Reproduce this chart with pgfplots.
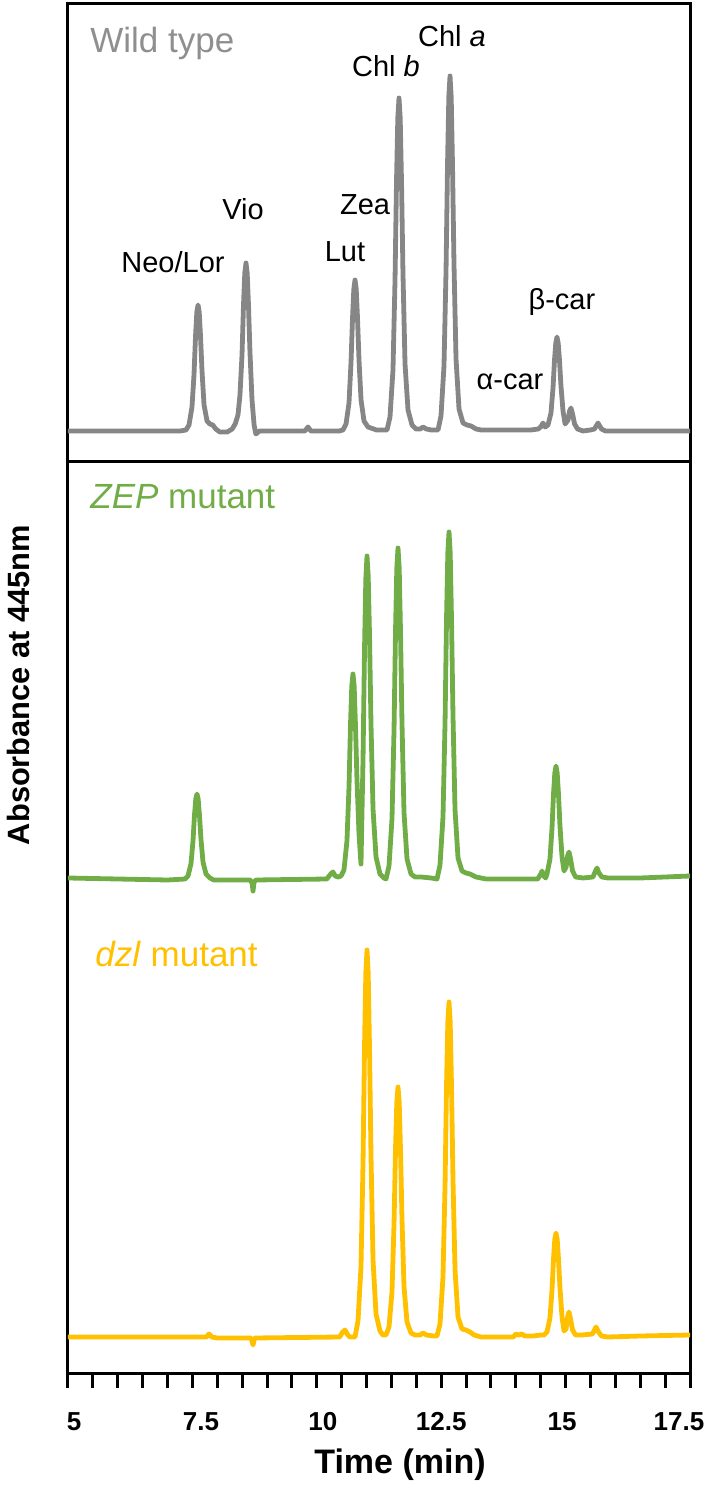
\documentclass[border=0pt]{standalone}
\usepackage{fontspec}
\setmainfont{Liberation Sans}
\usepackage{pgfplots}
\usepackage{pgfplotstable}
\pgfplotsset{compat=1.18}

\definecolor{wtgray}{HTML}{868686}
\definecolor{wtlabel}{HTML}{8F8F8F}
\definecolor{zepgreen}{HTML}{70AD47}
\definecolor{dzlgold}{HTML}{FFC000}

% retention time (min) vs absorbance (arbitrary units, baseline = 0)
\pgfplotstableread{
t h
5.000 -1
6.500 -1
7.250 -1
7.372 0
7.432 5
7.492 23
7.533 56
7.563 94
7.589 118
7.613 125
7.637 118
7.663 94
7.693 59
7.734 25
7.794 9
7.850 6
7.910 5
7.970 1
8.050 -2
8.200 -2
8.300 1
8.360 6
8.416 15
8.456 35
8.497 75
8.527 125
8.553 157
8.577 167
8.601 157
8.627 125
8.657 78
8.698 30
8.740 5
8.775 -4
8.850 -1
9.760 -1
9.823 3
9.880 -1
10.450 -1
10.527 0
10.587 6
10.647 27
10.688 68
10.718 112
10.744 141
10.768 150
10.792 141
10.818 112
10.848 70
10.889 30
10.949 9
11.029 3
11.200 0
11.411 0
11.471 13
11.531 60
11.572 150
11.602 249
11.628 312
11.652 332
11.676 312
11.702 249
11.732 156
11.773 66
11.833 20
11.913 5
11.993 1
12.080 1
12.134 3
12.200 1
12.300 0
12.436 0
12.496 14
12.556 64
12.597 159
12.627 265
12.653 333
12.677 354
12.701 333
12.727 265
12.757 166
12.798 71
12.858 21
12.938 7
13.018 5
13.100 4
13.200 1
13.300 0
14.300 0
14.450 1
14.500 3
14.546 7
14.590 3
14.646 5
14.706 17
14.747 42
14.777 70
14.803 87
14.827 93
14.851 87
14.877 70
14.907 44
14.948 19
14.990 6
15.050 10
15.080 19
15.108 22
15.140 16
15.180 6
15.240 1
15.350 -1
15.500 0
15.580 1
15.651 7
15.720 1
15.800 -1
16.500 -1
17.500 -1
}\wildtype

\pgfplotstableread{
t h
5.000 1
6.000 0
7.000 -1
7.351 0
7.411 3
7.471 15
7.512 38
7.542 64
7.568 80
7.592 85
7.616 80
7.642 64
7.672 40
7.713 17
7.773 5
7.853 1
7.930 -1
8.660 -1
8.700 -4
8.718 -12
8.740 -3
8.780 -1
10.200 0
10.280 5
10.325 7
10.370 3
10.430 2
10.486 3
10.546 9
10.606 38
10.647 92
10.677 154
10.703 193
10.727 205
10.751 193
10.777 154
10.807 100
10.848 45
10.888 15
10.929 120
10.959 230
10.985 300
11.009 323
11.033 303
11.059 245
11.089 155
11.130 70
11.190 22
11.270 5
11.350 1
11.391 0
11.451 13
11.511 60
11.552 149
11.582 248
11.608 311
11.632 331
11.656 311
11.682 248
11.712 156
11.753 66
11.813 20
11.893 5
11.973 2
12.100 2
12.300 1
12.416 0
12.476 14
12.536 62
12.577 156
12.607 260
12.633 326
12.657 347
12.681 326
12.707 260
12.737 163
12.778 69
12.838 21
12.918 8
12.998 6
13.080 5
13.200 2
13.400 0
14.440 0
14.500 5
14.526 8
14.560 3
14.600 1
14.626 5
14.686 20
14.727 51
14.757 85
14.783 106
14.807 113
14.831 106
14.857 85
14.887 53
14.928 22
14.968 8
15.010 12
15.040 23
15.068 27
15.100 20
15.140 8
15.200 2
15.350 1
15.550 2
15.600 8
15.631 11
15.670 6
15.730 2
15.850 1
16.500 1
17.500 3
}\zep

\pgfplotstableread{
t h
5.000 0
7.780 0
7.834 3
7.890 0
8.000 -1
8.680 -1
8.718 -8
8.750 -1
10.460 0
10.520 5
10.567 7
10.610 3
10.660 0
10.768 0
10.828 16
10.888 70
10.929 174
10.959 290
10.985 364
11.009 387
11.033 364
11.059 290
11.089 182
11.130 77
11.190 23
11.270 6
11.330 2
11.391 2
11.451 10
11.511 45
11.552 113
11.582 188
11.608 235
11.632 250
11.656 235
11.682 188
11.712 118
11.753 50
11.813 15
11.893 4
11.973 2
12.080 2
12.134 4
12.200 2
12.350 1
12.416 1
12.476 13
12.536 60
12.577 151
12.607 251
12.633 315
12.657 335
12.681 315
12.707 251
12.737 157
12.778 67
12.838 20
12.918 8
12.998 7
13.080 5
13.160 2
13.300 0
13.950 0
14.000 3
14.060 2
14.120 3
14.180 1
14.350 1
14.500 2
14.566 2
14.626 5
14.686 19
14.727 47
14.757 78
14.783 98
14.807 104
14.831 98
14.857 78
14.887 49
14.928 20
14.968 6
15.010 8
15.040 20
15.068 25
15.100 18
15.140 7
15.200 2
15.320 2
15.540 3
15.580 7
15.611 10
15.650 6
15.720 1
15.850 0
16.500 1
17.500 2
}\dzl

\tikzset{
  peaklab/.style={font=\fontsize{14.5}{14.5}\selectfont, anchor=base, inner sep=0pt},
  panellab/.style={font=\fontsize{17.5}{17.5}\selectfont, anchor=base west, inner sep=0pt},
}

\begin{document}
\begin{tikzpicture}
\pgfplotsset{
  panel/.style={
    scale only axis, width=311pt, xmin=5, xmax=17.5,
    axis line style={line width=1.5pt, black}, ytick=\empty,
  },
  trace/.style={line width=2.4pt, line join=round, line cap=round, no markers},
}
\begin{axis}[panel, at={(0,455.5pt)}, anchor=south west, height=229pt,
  ymin=-32, ymax=426, xtick=\empty]
\addplot[trace, wtgray] table {\wildtype};
\node[panellab, text=wtlabel] at (axis cs:5.442,377) {Wild type};
\node[peaklab] at (axis cs:7.110,157) {Neo/Lor};
\node[peaklab] at (axis cs:8.517,210) {Vio};
\node[peaklab] at (axis cs:10.567,168) {Lut};
\node[peaklab] at (axis cs:10.969,215) {Zea};
\node[peaklab] at (axis cs:11.391,353) {Chl \textit{b}};
\node[peaklab] at (axis cs:12.717,383) {Chl \textit{a}};
\node[peaklab] at (axis cs:14.927,120) {β-car};
\node[peaklab] at (axis cs:13.882,40) {α-car};
\end{axis}

\begin{axis}[panel, at={(0,0)}, anchor=south west, height=455.5pt,
  ymin=-36, ymax=875,
  xtick={5,7.5,...,17.5}, minor x tick num=4,
  tick align=outside, xtick pos=bottom,
  major tick length=7.5pt, minor tick length=7.5pt,
  tick style={line width=1.5pt, black},
  xticklabels={\hspace*{6pt}5, \hspace*{8.6pt}7.5, \hspace*{6pt}10, 12.5, 15\hspace*{3.6pt}, 17.5\hspace*{11pt}},
  xticklabel style={font=\bfseries\fontsize{13}{13}\selectfont, inner sep=0pt, yshift=-12pt},
  xlabel={Time (min)},
  xlabel style={at={(axis description cs:0.5,0)}, anchor=north, inner sep=0pt,
    yshift=-37.5pt, xshift=10.5pt, font=\bfseries\fontsize{17}{17}\selectfont},
]
\addplot[trace, zepgreen] table[y expr=\thisrow{h}+458] {\zep};
\addplot[trace, dzlgold] table {\dzl};
\node[panellab, text=zepgreen] at (axis cs:5.442,828) {\textit{ZEP} mutant};
\node[panellab, text=dzlgold] at (axis cs:5.543,370) {\textit{dzl} mutant};
\end{axis}

\node[rotate=90, font=\bfseries\fontsize{15.4}{15.4}\selectfont, inner sep=0pt]
  at (-25pt,344pt) {Absorbance at 445nm};

\pgfresetboundingbox
\path[use as bounding box] (-34pt,-61pt) rectangle (321.5pt,686.5pt);
\end{tikzpicture}
\end{document}
